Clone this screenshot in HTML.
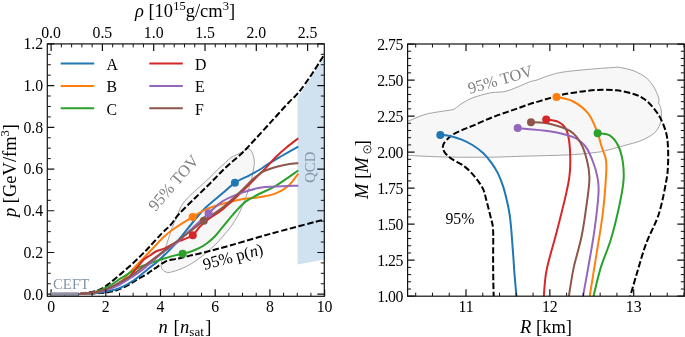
<!DOCTYPE html>
<html><head><meta charset="utf-8"><style>
html,body{margin:0;padding:0;background:#fff;}
body{width:685px;height:337px;overflow:hidden;}
svg{display:block;font-family:"Liberation Serif",serif;will-change:transform;}
</style></head><body>
<svg width="685" height="337" viewBox="0 0 685 337">
<rect width="685" height="337" fill="#fff"/>
<defs><clipPath id="cl"><rect x="47.3" y="43.9" width="277.0" height="252.4"/></clipPath>
<clipPath id="cr"><rect x="407.6" y="44.0" width="276.69999999999993" height="252.2"/></clipPath></defs>
<g clip-path="url(#cl)">
<path d="M297.5,97.5 L324.6,57 L324.6,259.5 L297.5,264.6 Z" fill="#d0e2f0"/>
<path d="M161.2,265.8 C161.28,267.72 161.93,268.93 162.8,270 C163.67,271.07 165.1,271.83 166.4,272.2 C167.7,272.57 168.17,272.75 170.6,272.2 C173.03,271.65 177.53,270.32 181,268.9 C184.47,267.48 187.93,265.78 191.4,263.7 C194.87,261.62 198.7,258.77 201.8,256.4 C204.9,254.03 207.47,251.73 210,249.5 C212.53,247.27 214.67,245.42 217,243 C219.33,240.58 221.67,237.75 224,235 C226.33,232.25 228.75,229.58 231,226.5 C233.25,223.42 235.75,219.58 237.5,216.5 C239.25,213.42 240.33,210.58 241.5,208 C242.67,205.42 243.42,203.83 244.5,201 C245.58,198.17 246.88,194.43 248,191 C249.12,187.57 250.3,183.9 251.2,180.4 C252.1,176.9 252.87,173.02 253.4,170 C253.93,166.98 254.38,164.57 254.4,162.3 C254.42,160.03 253.95,158.18 253.5,156.4 C253.05,154.62 252.4,152.83 251.7,151.6 C251,150.37 250.18,149.4 249.3,149 C248.42,148.6 247.48,148.77 246.4,149.2 C245.32,149.63 244.38,150.7 242.8,151.6 C241.22,152.5 238.88,153.6 236.9,154.6 C234.92,155.6 232.78,156.3 230.9,157.6 C229.02,158.9 227.85,160.37 225.6,162.4 C223.35,164.43 220.4,166.93 217.4,169.8 C214.4,172.67 211.95,175.52 207.6,179.6 C203.25,183.68 194.7,191.17 191.3,194.3 C187.9,197.43 188.83,196.5 187.2,198.4 C185.57,200.3 183.13,202.93 181.5,205.7 C179.87,208.47 178.93,211.37 177.4,215 C175.87,218.63 174.15,222.45 172.3,227.5 C170.45,232.55 167.97,240.13 166.3,245.3 C164.63,250.47 163.15,255.08 162.3,258.5 C161.45,261.92 161.12,263.88 161.2,265.8Z" fill="#f7f7f7" stroke="#8c8c8c" stroke-width="0.8"/>
<path d="M80,293.8 C82.33,293.4 90.37,292.25 94,291.4 C97.63,290.55 99.32,289.97 101.8,288.7 C104.28,287.43 106.23,285.83 108.9,283.8 C111.57,281.77 114.83,279 117.8,276.5 C120.77,274 124,271.17 126.7,268.8 C129.4,266.43 131.6,264.53 134,262.3 C136.4,260.07 139.13,257.33 141.1,255.4 C143.07,253.47 144.32,252.23 145.8,250.7 C147.28,249.17 147.32,249.1 150,246.2 C152.68,243.3 158.47,236.83 161.9,233.3 C165.33,229.77 167.73,228.23 170.6,225 C173.47,221.77 175.02,218.4 179.1,213.9 C183.18,209.4 189.95,203.07 195.1,198 C200.25,192.93 205.02,188.47 210,183.5 C214.98,178.53 220,172.95 225,168.2 C230,163.45 236.57,158.12 240,155 C243.43,151.88 242.88,152.33 245.6,149.5 C248.32,146.67 251.8,142.88 256.3,138 C260.8,133.12 267.15,126.17 272.6,120.2 C278.05,114.23 284.65,106.83 289,102.2 C293.35,97.57 294.9,97.07 298.7,92.4 C302.5,87.73 307.42,80.72 311.8,74.2 C316.18,67.68 322.8,56.78 325,53.3" fill="none" stroke="#000" stroke-width="2.0" stroke-dasharray="6.4,2.5"/>
<path d="M80,294 C83.33,293.83 94.38,293.47 100,293 C105.62,292.53 109.33,292.33 113.7,291.2 C118.07,290.07 122.47,288.03 126.2,286.2 C129.93,284.37 132.9,282.07 136.1,280.2 C139.3,278.33 143.08,276.4 145.4,275 C147.72,273.6 148.4,272.9 150,271.8 C151.6,270.7 152.43,270.1 155,268.4 C157.57,266.7 162.07,263.15 165.4,261.6 C168.73,260.05 172.4,259.7 175,259.1 C177.6,258.5 178.5,258.58 181,258 C183.5,257.42 186,256.57 190,255.6 C194,254.63 198.33,253.88 205,252.2 C211.67,250.52 220.83,248.07 230,245.5 C239.17,242.93 251.47,239.23 260,236.8 C268.53,234.37 270.37,233.82 281.2,230.9 C292.03,227.98 317.7,221.23 325,219.3" fill="none" stroke="#000" stroke-width="2.0" stroke-dasharray="6.4,2.5"/>
<path d="M78.7,294 C81.42,293.87 90.2,293.67 95,293.2 C99.8,292.73 103.35,292.07 107.5,291.2 C111.65,290.33 115.45,289.87 119.9,288 C124.35,286.13 129.18,283.43 134.2,280 C139.22,276.57 146.12,270.48 150,267.4 C153.88,264.32 153.33,265.35 157.5,261.5 C161.67,257.65 169.15,250.8 175,244.3 C180.85,237.8 187.6,228.5 192.6,222.5 C197.6,216.5 199.97,213.2 205,208.3 C210.03,203.4 217.82,197.35 222.8,193.1 C227.78,188.85 230.45,185.77 234.9,182.8 C239.35,179.83 245.32,177.52 249.5,175.3 C253.68,173.08 257,171.33 260,169.5 C263,167.67 264.18,166.38 267.5,164.3 C270.82,162.22 274.77,159.95 279.9,157 C285.03,154.05 295.23,148.33 298.3,146.6" fill="none" stroke="#1f77b4" stroke-width="2" stroke-linejoin="round"/>
<path d="M78.7,294 C81.42,293.75 90.2,293.33 95,292.5 C99.8,291.67 103.35,290.67 107.5,289 C111.65,287.33 116.03,285.43 119.9,282.5 C123.77,279.57 125.68,276.6 130.7,271.4 C135.72,266.2 144.33,257.18 150,251.3 C155.67,245.42 160.53,239.98 164.7,236.1 C168.87,232.22 170.33,231.18 175,228 C179.67,224.82 187.7,220.03 192.7,217 C197.7,213.97 199.98,212 205,209.8 C210.02,207.6 216.87,205.53 222.8,203.8 C228.73,202.07 234.53,200.48 240.6,199.4 C246.67,198.32 253.33,198.3 259.2,197.3 C265.07,196.3 270.97,195.27 275.8,193.4 C280.63,191.53 284.45,189.4 288.2,186.1 C291.95,182.8 296.62,175.68 298.3,173.6" fill="none" stroke="#ff7f0e" stroke-width="2" stroke-linejoin="round"/>
<path d="M78.7,294 C81.42,293.67 89.97,293.3 95,292 C100.03,290.7 105.1,288.15 108.9,286.2 C112.7,284.25 115.45,281.83 117.8,280.3 C120.15,278.77 120.97,278.28 123,277 C125.03,275.72 127.17,274.3 130,272.6 C132.83,270.9 137.07,268.18 140,266.8 C142.93,265.42 144.72,265.3 147.6,264.3 C150.48,263.3 154.4,261.8 157.3,260.8 C160.2,259.8 162.05,259.2 165,258.3 C167.95,257.4 172.07,256.15 175,255.4 C177.93,254.65 179.93,254.45 182.6,253.8 C185.27,253.15 188.18,252.48 191,251.5 C193.82,250.52 196.83,249.28 199.5,247.9 C202.17,246.52 204.42,245.15 207,243.2 C209.58,241.25 212.42,238.87 215,236.2 C217.58,233.53 220.03,230.18 222.5,227.2 C224.97,224.22 227.38,221.17 229.8,218.3 C232.22,215.43 234.52,212.65 237,210 C239.48,207.35 242.2,204.43 244.7,202.4 C247.2,200.37 249.45,199.28 252,197.8 C254.55,196.32 256.03,195.5 260,193.5 C263.97,191.5 269.42,189.63 275.8,185.8 C282.18,181.97 294.55,173.05 298.3,170.5" fill="none" stroke="#2ca02c" stroke-width="2" stroke-linejoin="round"/>
<path d="M78.7,294 C81.42,293.72 90.2,293.05 95,292.3 C99.8,291.55 103.33,290.97 107.5,289.5 C111.67,288.03 116.25,285.75 120,283.5 C123.75,281.25 127.17,278.67 130,276 C132.83,273.33 134.68,270.25 137,267.5 C139.32,264.75 141.73,261.5 143.9,259.5 C146.07,257.5 147.98,256.83 150,255.5 C152.02,254.17 153.55,252.7 156,251.5 C158.45,250.3 161.53,249.72 164.7,248.3 C167.87,246.88 171.9,244.47 175,243 C178.1,241.53 180.33,240.8 183.3,239.5 C186.27,238.2 190.02,237.37 192.8,235.2 C195.58,233.03 197.37,229.2 200,226.5 C202.63,223.8 204.8,221.88 208.6,219 C212.4,216.12 217.47,213.52 222.8,209.2 C228.13,204.88 234.97,198.45 240.6,193.1 C246.23,187.75 252.47,181.22 256.6,177.1 C260.73,172.98 262.2,171.75 265.4,168.4 C268.6,165.05 272.33,160.45 275.8,157 C279.27,153.55 282.45,150.82 286.2,147.7 C289.95,144.58 296.28,139.87 298.3,138.3" fill="none" stroke="#d62728" stroke-width="2" stroke-linejoin="round"/>
<path d="M78.7,294 C81.42,293.77 90.2,293.33 95,292.6 C99.8,291.87 103.33,290.95 107.5,289.6 C111.67,288.25 115.92,286.6 120,284.5 C124.08,282.4 128.52,279.25 132,277 C135.48,274.75 137.9,273.27 140.9,271 C143.9,268.73 146.03,266.73 150,263.4 C153.97,260.07 160.53,254.18 164.7,251 C168.87,247.82 170.35,248.13 175,244.3 C179.65,240.47 187,233.17 192.6,228 C198.2,222.83 203.57,217.77 208.6,213.3 C213.63,208.83 217.47,204.57 222.8,201.2 C228.13,197.83 234.4,195.33 240.6,193.1 C246.8,190.87 254.13,188.88 260,187.8 C265.87,186.72 269.42,186.95 275.8,186.6 C282.18,186.25 294.55,185.85 298.3,185.7" fill="none" stroke="#9467bd" stroke-width="2" stroke-linejoin="round"/>
<path d="M78.7,294 C81.42,293.73 90.2,293.3 95,292.4 C99.8,291.5 103.33,290.3 107.5,288.6 C111.67,286.9 115.92,284.43 120,282.2 C124.08,279.97 128.67,277.37 132,275.2 C135.33,273.03 137,271.47 140,269.2 C143,266.93 145.88,264.77 150,261.6 C154.12,258.43 160.53,253.33 164.7,250.2 C168.87,247.07 170.35,246.25 175,242.8 C179.65,239.35 187.8,233.17 192.6,229.5 C197.4,225.83 198.77,224.48 203.8,220.8 C208.83,217.12 216.67,212.3 222.8,207.4 C228.93,202.5 235.55,196.15 240.6,191.4 C245.65,186.65 249.87,181.87 253.1,178.9 C256.33,175.93 257.95,175 260,173.6 C262.05,172.2 262.77,171.6 265.4,170.5 C268.03,169.4 272,168.03 275.8,167 C279.6,165.97 284.45,164.93 288.2,164.3 C291.95,163.67 296.62,163.38 298.3,163.2" fill="none" stroke="#8c564b" stroke-width="2" stroke-linejoin="round"/>
<circle cx="234.9" cy="182.8" r="4.0" fill="#1f77b4"/>
<circle cx="192.7" cy="217" r="4.0" fill="#ff7f0e"/>
<circle cx="182.6" cy="253.8" r="4.0" fill="#2ca02c"/>
<circle cx="192.8" cy="235.2" r="4.0" fill="#d62728"/>
<circle cx="208.6" cy="213.3" r="4.0" fill="#9467bd"/>
<circle cx="203.8" cy="220.8" r="4.0" fill="#8c564b"/>
</g>
<g clip-path="url(#cr)">
<path d="M400,123 C401.3,122.7 403.4,122.68 407.8,121.2 C412.2,119.72 419.15,115.98 426.4,114.1 C433.65,112.22 446.53,110.83 451.3,109.9 C456.07,108.97 453.22,109.58 455,108.5 C456.78,107.42 459.03,105.18 462,103.4 C464.97,101.62 468.03,99.57 472.8,97.8 C477.57,96.03 485.27,93.83 490.6,92.8 C495.93,91.77 500.35,92.55 504.8,91.6 C509.25,90.65 513.13,88.73 517.3,87.1 C521.47,85.47 526.53,82.98 529.8,81.8 C533.07,80.62 533.7,81.05 536.9,80 C540.1,78.95 544.43,76.85 549,75.5 C553.57,74.15 556.8,73 564.3,71.9 C571.8,70.8 585.58,69.65 594,68.9 C602.42,68.15 610.47,67.63 614.8,67.4 C619.13,67.17 616.77,66.9 620,67.5 C623.23,68.1 629.75,69.22 634.2,71 C638.65,72.78 643.43,75.53 646.7,78.2 C649.97,80.87 652.03,84.33 653.8,87 C655.57,89.67 656.42,92.12 657.3,94.2 C658.18,96.28 658.88,98.02 659.1,99.5 C659.32,100.98 658.3,101.62 658.6,103.1 C658.9,104.58 660.45,105.73 660.9,108.4 C661.35,111.07 661.6,116.13 661.3,119.1 C661,122.07 660.35,123.82 659.1,126.2 C657.85,128.58 656.77,131.02 653.8,133.4 C650.83,135.78 646.35,138.43 641.3,140.5 C636.25,142.57 629.55,144.08 623.5,145.8 C617.45,147.52 609.75,149.68 605,150.8 C600.25,151.92 600.83,151.83 595,152.5 C589.17,153.17 582.5,154.17 570,154.8 C557.5,155.43 533.33,155.9 520,156.3 C506.67,156.7 502.5,157.08 490,157.2 C477.5,157.32 458.73,157.3 445,157 C431.27,156.7 415.1,155.7 407.6,155.4 C400.1,155.1 401.27,155.23 400,155.2" fill="#f7f7f7" stroke="#8c8c8c" stroke-width="0.8"/>
<path d="M493.7,298 C493.63,295 493.4,286.45 493.3,280 C493.2,273.55 493.13,267.68 493.1,259.3 C493.07,250.92 493.48,236.62 493.1,229.7 C492.72,222.78 491.93,222.75 490.8,217.8 C489.67,212.85 487.58,204.78 486.3,200 C485.02,195.22 484.97,192.92 483.1,189.1 C481.23,185.28 478.22,180.88 475.1,177.1 C471.98,173.32 468.42,169.52 464.4,166.4 C460.38,163.28 454.35,160.85 451,158.4 C447.65,155.95 445.6,153.93 444.3,151.7 C443,149.47 442.52,147.27 443.2,145 C443.88,142.73 446.67,139.92 448.4,138.1 C450.13,136.28 451,135.58 453.6,134.1 C456.2,132.62 460.53,130.7 464,129.2 C467.47,127.7 470.9,126.58 474.4,125.1 C477.9,123.62 481.4,121.83 485,120.3 C488.6,118.77 492.35,117.27 496,115.9 C499.65,114.53 503.25,113.37 506.9,112.1 C510.55,110.83 514.25,109.58 517.9,108.3 C521.55,107.02 525.15,105.6 528.8,104.4 C532.45,103.2 536.15,102.18 539.8,101.1 C543.45,100.02 547.33,98.87 550.7,97.9 C554.07,96.93 556.95,96.05 560,95.3 C563.05,94.55 565.33,94.03 569,93.4 C572.67,92.77 577.33,92.08 582,91.5 C586.67,90.92 591.27,90.1 597,89.9 C602.73,89.7 610.2,89.58 616.4,90.3 C622.6,91.02 629.45,92.67 634.2,94.2 C638.95,95.73 641.63,97.13 644.9,99.5 C648.17,101.87 651.13,105.13 653.8,108.4 C656.47,111.67 658.82,114.93 660.9,119.1 C662.98,123.27 665.12,128.65 666.3,133.4 C667.48,138.15 667.72,142.33 668,147.6 C668.28,152.87 668.28,159.47 668,165 C667.72,170.53 667.83,172.63 666.3,180.8 C664.77,188.97 662.13,203.62 658.8,214 C655.47,224.38 649.9,233.4 646.3,243.1 C642.7,252.8 639.97,263.05 637.2,272.2 C634.43,281.35 630.95,293.7 629.7,298" fill="none" stroke="#000" stroke-width="2.0" stroke-dasharray="6.4,2.5"/>
<path d="M440.3,134.9 C442.08,135.12 447.43,135.4 451,136.2 C454.57,137 458.13,138.23 461.7,139.7 C465.27,141.17 468.83,142.78 472.4,145 C475.97,147.22 479.98,150.1 483.1,153 C486.22,155.9 488.65,159.05 491.1,162.4 C493.55,165.75 495.8,169.1 497.8,173.1 C499.8,177.1 501.55,181.67 503.1,186.4 C504.65,191.13 506,196.73 507.1,201.5 C508.2,206.27 509,210.25 509.7,215 C510.4,219.75 510.85,225.08 511.3,230 C511.75,234.92 512.03,239.67 512.4,244.5 C512.77,249.33 513.15,254.05 513.5,259 C513.85,263.95 513.98,267.7 514.5,274.2 C515.02,280.7 516.25,294.03 516.6,298" fill="none" stroke="#1f77b4" stroke-width="2" stroke-linejoin="round"/>
<path d="M556.5,96.9 C559.28,97.67 567.93,98.75 573.2,101.5 C578.47,104.25 584.13,108.45 588.1,113.4 C592.07,118.35 594.78,125.77 597,131.2 C599.22,136.63 599.9,141.2 601.4,146 C602.9,150.8 605.23,154.9 606,160 C606.77,165.1 606.55,167.6 606,176.6 C605.45,185.6 604.43,200.15 602.7,214 C600.97,227.85 597.82,245.7 595.6,259.7 C593.38,273.7 590.43,291.62 589.4,298" fill="none" stroke="#ff7f0e" stroke-width="2" stroke-linejoin="round"/>
<path d="M597.6,133.3 C599.55,133.62 605.87,133.12 609.3,135.2 C612.73,137.28 615.95,141.35 618.2,145.8 C620.45,150.25 621.92,156.07 622.8,161.9 C623.68,167.73 624.08,173.5 623.5,180.8 C622.92,188.1 621.38,196 619.3,205.7 C617.22,215.4 614.12,228.6 611,239 C607.88,249.4 603.58,258.27 600.6,268.1 C597.62,277.93 594.35,293.02 593.1,298" fill="none" stroke="#2ca02c" stroke-width="2" stroke-linejoin="round"/>
<path d="M546.2,119.5 C548.22,119.88 555.1,120.37 558.3,121.8 C561.5,123.23 563.62,125.07 565.4,128.1 C567.18,131.13 568.18,134.68 569,140 C569.82,145.32 570.23,153.9 570.3,160 C570.37,166.1 570.23,170.37 569.4,176.6 C568.57,182.83 567.37,188.38 565.3,197.4 C563.23,206.42 560.12,218.58 557,230.7 C553.88,242.82 548.82,258.88 546.6,270.1 C544.38,281.32 544.18,293.35 543.7,298" fill="none" stroke="#d62728" stroke-width="2" stroke-linejoin="round"/>
<path d="M517.7,128.1 C523,128.62 540.25,129.68 549.5,131.2 C558.75,132.72 567.27,134.73 573.2,137.2 C579.13,139.67 581.92,142.2 585.1,146 C588.28,149.8 590.27,154.9 592.3,160 C594.33,165.1 596.27,171.05 597.3,176.6 C598.33,182.15 598.98,184.28 598.5,193.3 C598.02,202.32 596.13,218.23 594.4,230.7 C592.67,243.17 590.05,256.88 588.1,268.1 C586.15,279.32 583.6,293.02 582.7,298" fill="none" stroke="#9467bd" stroke-width="2" stroke-linejoin="round"/>
<path d="M531,122.2 C534.08,122.47 542.95,122.3 549.5,123.8 C556.05,125.3 565.1,127.98 570.3,131.2 C575.5,134.42 577.93,138.3 580.7,143.1 C583.47,147.9 585.45,154.42 586.9,160 C588.35,165.58 589.2,171.05 589.4,176.6 C589.6,182.15 589.35,183.6 588.1,193.3 C586.85,203 584.32,222.33 581.9,234.8 C579.48,247.27 575.82,257.57 573.6,268.1 C571.38,278.63 569.43,293.02 568.6,298" fill="none" stroke="#8c564b" stroke-width="2" stroke-linejoin="round"/>
<circle cx="440.3" cy="134.9" r="4.0" fill="#1f77b4"/>
<circle cx="556.5" cy="96.9" r="4.0" fill="#ff7f0e"/>
<circle cx="597.6" cy="133.3" r="4.0" fill="#2ca02c"/>
<circle cx="546.2" cy="119.5" r="4.0" fill="#d62728"/>
<circle cx="517.7" cy="128.1" r="4.0" fill="#9467bd"/>
<circle cx="531" cy="122.2" r="4.0" fill="#8c564b"/>
</g>
<path d="M51.1,296.3v-7M105.8,296.3v-7M160.5,296.3v-7M215.2,296.3v-7M269.9,296.3v-7M324.6,296.3v-7" stroke="#111" stroke-width="1.2"/>
<path d="M64.78,296.3v-3.5M78.45,296.3v-3.5M92.12,296.3v-3.5M119.47,296.3v-3.5M133.15,296.3v-3.5M146.83,296.3v-3.5M174.18,296.3v-3.5M187.85,296.3v-3.5M201.53,296.3v-3.5M228.88,296.3v-3.5M242.55,296.3v-3.5M256.23,296.3v-3.5M283.58,296.3v-3.5M297.25,296.3v-3.5M310.93,296.3v-3.5" stroke="#111" stroke-width="1.0"/>
<path d="M51.1,43.9v7M102.4,43.9v7M153.7,43.9v7M205,43.9v7M256.3,43.9v7M307.6,43.9v7" stroke="#111" stroke-width="1.2"/>
<path d="M61.36,43.9v3.5M71.62,43.9v3.5M81.88,43.9v3.5M92.14,43.9v3.5M112.66,43.9v3.5M122.92,43.9v3.5M133.18,43.9v3.5M143.44,43.9v3.5M163.96,43.9v3.5M174.22,43.9v3.5M184.48,43.9v3.5M194.74,43.9v3.5M215.26,43.9v3.5M225.52,43.9v3.5M235.78,43.9v3.5M246.04,43.9v3.5M266.56,43.9v3.5M276.82,43.9v3.5M287.08,43.9v3.5M297.34,43.9v3.5M317.86,43.9v3.5" stroke="#111" stroke-width="1.0"/>
<path d="M47.3,294.2h7M324.3,294.2h-7M47.3,252.48h7M324.3,252.48h-7M47.3,210.76h7M324.3,210.76h-7M47.3,169.04h7M324.3,169.04h-7M47.3,127.32h7M324.3,127.32h-7M47.3,85.6h7M324.3,85.6h-7M47.3,43.88h7M324.3,43.88h-7" stroke="#111" stroke-width="1.2"/>
<path d="M47.3,283.77h3.5M324.3,283.77h-3.5M47.3,273.34h3.5M324.3,273.34h-3.5M47.3,262.91h3.5M324.3,262.91h-3.5M47.3,242.05h3.5M324.3,242.05h-3.5M47.3,231.62h3.5M324.3,231.62h-3.5M47.3,221.19h3.5M324.3,221.19h-3.5M47.3,200.33h3.5M324.3,200.33h-3.5M47.3,189.9h3.5M324.3,189.9h-3.5M47.3,179.47h3.5M324.3,179.47h-3.5M47.3,158.61h3.5M324.3,158.61h-3.5M47.3,148.18h3.5M324.3,148.18h-3.5M47.3,137.75h3.5M324.3,137.75h-3.5M47.3,116.89h3.5M324.3,116.89h-3.5M47.3,106.46h3.5M324.3,106.46h-3.5M47.3,96.03h3.5M324.3,96.03h-3.5M47.3,75.17h3.5M324.3,75.17h-3.5M47.3,64.74h3.5M324.3,64.74h-3.5M47.3,54.31h3.5M324.3,54.31h-3.5" stroke="#111" stroke-width="1.0"/>
<rect x="51.1" y="292.4" width="27.6" height="3.4" fill="#8c8ca0"/>
<rect x="51.1" y="292.4" width="27.6" height="0.9" fill="#a8a8b8"/>
<rect x="47.3" y="43.9" width="277" height="252.4" fill="none" stroke="#111" stroke-width="1.2"/>
<path d="M466,296.2v-7M466,44v7M549.85,296.2v-7M549.85,44v7M633.7,296.2v-7M633.7,44v7" stroke="#111" stroke-width="1.2"/>
<path d="M415.69,296.2v-3.5M415.69,44v3.5M432.46,296.2v-3.5M432.46,44v3.5M449.23,296.2v-3.5M449.23,44v3.5M482.77,296.2v-3.5M482.77,44v3.5M499.54,296.2v-3.5M499.54,44v3.5M516.31,296.2v-3.5M516.31,44v3.5M533.08,296.2v-3.5M533.08,44v3.5M566.62,296.2v-3.5M566.62,44v3.5M583.39,296.2v-3.5M583.39,44v3.5M600.16,296.2v-3.5M600.16,44v3.5M616.93,296.2v-3.5M616.93,44v3.5M650.47,296.2v-3.5M650.47,44v3.5M667.24,296.2v-3.5M667.24,44v3.5M684.01,296.2v-3.5M684.01,44v3.5" stroke="#111" stroke-width="1.0"/>
<path d="M407.6,296.2h7M684.3,296.2h-7M407.6,260.18h7M684.3,260.18h-7M407.6,224.15h7M684.3,224.15h-7M407.6,188.12h7M684.3,188.12h-7M407.6,152.1h7M684.3,152.1h-7M407.6,116.07h7M684.3,116.07h-7M407.6,80.05h7M684.3,80.05h-7M407.6,44.03h7M684.3,44.03h-7" stroke="#111" stroke-width="1.2"/>
<path d="M407.6,289h3.5M684.3,289h-3.5M407.6,281.79h3.5M684.3,281.79h-3.5M407.6,274.58h3.5M684.3,274.58h-3.5M407.6,267.38h3.5M684.3,267.38h-3.5M407.6,252.97h3.5M684.3,252.97h-3.5M407.6,245.76h3.5M684.3,245.76h-3.5M407.6,238.56h3.5M684.3,238.56h-3.5M407.6,231.36h3.5M684.3,231.36h-3.5M407.6,216.94h3.5M684.3,216.94h-3.5M407.6,209.74h3.5M684.3,209.74h-3.5M407.6,202.54h3.5M684.3,202.54h-3.5M407.6,195.33h3.5M684.3,195.33h-3.5M407.6,180.92h3.5M684.3,180.92h-3.5M407.6,173.71h3.5M684.3,173.71h-3.5M407.6,166.51h3.5M684.3,166.51h-3.5M407.6,159.3h3.5M684.3,159.3h-3.5M407.6,144.9h3.5M684.3,144.9h-3.5M407.6,137.69h3.5M684.3,137.69h-3.5M407.6,130.48h3.5M684.3,130.48h-3.5M407.6,123.28h3.5M684.3,123.28h-3.5M407.6,108.87h3.5M684.3,108.87h-3.5M407.6,101.66h3.5M684.3,101.66h-3.5M407.6,94.46h3.5M684.3,94.46h-3.5M407.6,87.25h3.5M684.3,87.25h-3.5M407.6,72.85h3.5M684.3,72.85h-3.5M407.6,65.64h3.5M684.3,65.64h-3.5M407.6,58.43h3.5M684.3,58.43h-3.5M407.6,51.23h3.5M684.3,51.23h-3.5" stroke="#111" stroke-width="1.0"/>
<rect x="407.6" y="44.0" width="276.7" height="252.2" fill="none" stroke="#111" stroke-width="1.2"/>
<text x="43.2" y="299.6" text-anchor="end" font-size="15.8">0.0</text>
<text x="43.2" y="257.88" text-anchor="end" font-size="15.8">0.2</text>
<text x="43.2" y="216.16" text-anchor="end" font-size="15.8">0.4</text>
<text x="43.2" y="174.44" text-anchor="end" font-size="15.8">0.6</text>
<text x="43.2" y="132.72" text-anchor="end" font-size="15.8">0.8</text>
<text x="43.2" y="91" text-anchor="end" font-size="15.8">1.0</text>
<text x="43.2" y="49.28" text-anchor="end" font-size="15.8">1.2</text>
<text x="51.1" y="311.5" text-anchor="middle" font-size="15.8">0</text>
<text x="105.8" y="311.5" text-anchor="middle" font-size="15.8">2</text>
<text x="160.5" y="311.5" text-anchor="middle" font-size="15.8">4</text>
<text x="215.2" y="311.5" text-anchor="middle" font-size="15.8">6</text>
<text x="269.9" y="311.5" text-anchor="middle" font-size="15.8">8</text>
<text x="324.6" y="311.5" text-anchor="middle" font-size="15.8">10</text>
<text x="51.1" y="37.8" text-anchor="middle" font-size="15.8">0.0</text>
<text x="102.4" y="37.8" text-anchor="middle" font-size="15.8">0.5</text>
<text x="153.7" y="37.8" text-anchor="middle" font-size="15.8">1.0</text>
<text x="205" y="37.8" text-anchor="middle" font-size="15.8">1.5</text>
<text x="256.3" y="37.8" text-anchor="middle" font-size="15.8">2.0</text>
<text x="307.6" y="37.8" text-anchor="middle" font-size="15.8">2.5</text>
<text x="403" y="302.1" text-anchor="end" font-size="15.8" letter-spacing="-0.45">1.00</text>
<text x="403" y="266.07" text-anchor="end" font-size="15.8" letter-spacing="-0.45">1.25</text>
<text x="403" y="230.05" text-anchor="end" font-size="15.8" letter-spacing="-0.45">1.50</text>
<text x="403" y="194.03" text-anchor="end" font-size="15.8" letter-spacing="-0.45">1.75</text>
<text x="403" y="158" text-anchor="end" font-size="15.8" letter-spacing="-0.45">2.00</text>
<text x="403" y="121.97" text-anchor="end" font-size="15.8" letter-spacing="-0.45">2.25</text>
<text x="403" y="85.95" text-anchor="end" font-size="15.8" letter-spacing="-0.45">2.50</text>
<text x="403" y="49.93" text-anchor="end" font-size="15.8" letter-spacing="-0.45">2.75</text>
<text x="466" y="311.5" text-anchor="middle" font-size="15.8">11</text>
<text x="549.85" y="311.5" text-anchor="middle" font-size="15.8">12</text>
<text x="633.7" y="311.5" text-anchor="middle" font-size="15.8">13</text>
<text x="185" y="332.5" text-anchor="middle" font-size="18.5"><tspan font-style="italic">n</tspan><tspan dx="1"> [</tspan><tspan font-style="italic" dx="0.5">n</tspan><tspan font-size="13" dy="3.6">sat</tspan><tspan dy="-3.6" dx="1.5">]</tspan></text>
<text x="185" y="17" text-anchor="middle" font-size="18.5"><tspan font-style="italic">ρ</tspan> [10<tspan font-size="12.5" dy="-7">15</tspan><tspan dy="7">g/cm</tspan><tspan font-size="12.5" dy="-7">3</tspan><tspan dy="7">]</tspan></text>
<text x="546" y="332.5" text-anchor="middle" font-size="18.5"><tspan font-style="italic">R</tspan> [km]</text>
<text transform="translate(16,170.5) rotate(-90)" x="0" y="0" text-anchor="middle" font-size="18.5"><tspan font-style="italic">p</tspan> [GeV/fm<tspan font-size="12.5" dy="-7">3</tspan><tspan dy="7">]</tspan></text>
<text transform="translate(367.5,169.5) rotate(-90)" x="0" y="0" text-anchor="middle" font-size="18.5"><tspan font-style="italic">M</tspan> [<tspan font-style="italic">M</tspan><tspan font-size="12.5" dy="3" fill-opacity="0">&#x2299;</tspan><tspan dy="-3">]</tspan></text>
<circle cx="367.3" cy="149.4" r="3.75" fill="none" stroke="#111" stroke-width="0.8"/><circle cx="367.3" cy="149.4" r="0.95" fill="#111"/>
<line x1="60.7" x2="94.2" y1="63.6" y2="63.6" stroke="#1f77b4" stroke-width="2"/>
<text x="106.4" y="69.8" text-anchor="start" font-size="15.8">A</text>
<line x1="60.7" x2="94.2" y1="86.0" y2="86.0" stroke="#ff7f0e" stroke-width="2"/>
<text x="106.4" y="92.2" text-anchor="start" font-size="15.8">B</text>
<line x1="60.7" x2="94.2" y1="108.3" y2="108.3" stroke="#2ca02c" stroke-width="2"/>
<text x="106.4" y="114.5" text-anchor="start" font-size="15.8">C</text>
<line x1="149.3" x2="182.8" y1="63.6" y2="63.6" stroke="#d62728" stroke-width="2"/>
<text x="195" y="69.8" text-anchor="start" font-size="15.8">D</text>
<line x1="149.3" x2="182.8" y1="86.0" y2="86.0" stroke="#9467bd" stroke-width="2"/>
<text x="195" y="92.2" text-anchor="start" font-size="15.8">E</text>
<line x1="149.3" x2="182.8" y1="108.3" y2="108.3" stroke="#8c564b" stroke-width="2"/>
<text x="195" y="114.5" text-anchor="start" font-size="15.8">F</text>
<text x="53" y="289" font-size="14.8" fill="#8095aa">CEFT</text>
<text transform="translate(314.5,167.2) rotate(-90)" text-anchor="middle" font-size="14.8" fill="#8095aa">QCD</text>
<text transform="translate(177.7,186.5) rotate(-49)" text-anchor="middle" font-size="16.5" fill="#808080">95% TOV</text>
<text transform="translate(234.3,262) rotate(-15)" text-anchor="middle" font-size="16.5">95% p(<tspan font-style="italic">n</tspan>)</text>
<text transform="translate(501.7,84.7) rotate(-16.3)" text-anchor="middle" font-size="16.3" fill="#808080">95% TOV</text>
<text x="459.9" y="224.4" text-anchor="middle" font-size="15.8">95%</text>
</svg></body></html>
